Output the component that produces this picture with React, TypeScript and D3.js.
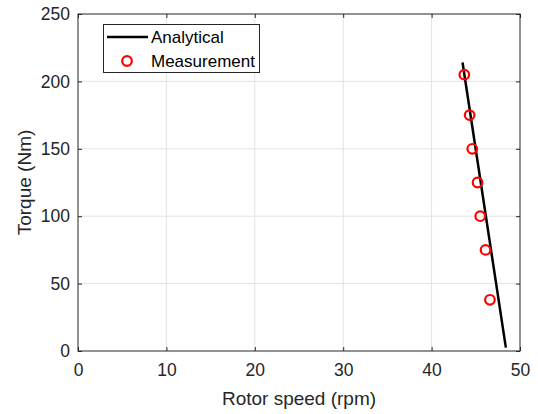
import React, { useEffect, useRef } from 'react';
import * as d3 from 'd3';

// analytical line end points (rpm, Nm)
const analyticalSpeed = [43.5, 48.4];
const analyticalTorque = [214, 2.5];
// measurements
const measSpeed = [43.7, 44.3, 44.6, 45.2, 45.5, 46.1, 46.6];
const measTorque = [205, 175, 150, 125, 100, 75, 38];
const xTicks = [0, 10, 20, 30, 40, 50];
const yTicks = [0, 50, 100, 150, 200, 250];

export default function App() {
  const ref = useRef<SVGSVGElement>(null);

  useEffect(() => {
    const svg = d3.select(ref.current);
    svg.selectAll('*').remove();
    const margin = { top: 14, right: 18, bottom: 63, left: 78 };
    const width = 538;
    const height = 414;
    const innerWidth = width - margin.left - margin.right;
    const innerHeight = height - margin.top - margin.bottom;
    const font = 'Liberation Sans, Arial, sans-serif';
    const txt = '#262626';

    const x = d3.scaleLinear().domain([0, 50]).range([0, innerWidth]);
    const y = d3.scaleLinear().domain([0, 250]).range([innerHeight, 0]);

    const g = svg.append('g').attr('transform', `translate(${margin.left},${margin.top})`);

    // grid
    g.append('g')
      .selectAll('line')
      .data(xTicks.slice(1, -1))
      .enter()
      .append('line')
      .attr('x1', (d) => x(d))
      .attr('x2', (d) => x(d))
      .attr('y1', 0)
      .attr('y2', innerHeight)
      .attr('stroke', '#e3e3e3');
    g.append('g')
      .selectAll('line')
      .data(yTicks.slice(1, -1))
      .enter()
      .append('line')
      .attr('y1', (d) => y(d))
      .attr('y2', (d) => y(d))
      .attr('x1', 0)
      .attr('x2', innerWidth)
      .attr('stroke', '#e3e3e3');

    const styleAxis = (sel: any) => {
      sel.select('.domain').remove();
      sel.selectAll('line').attr('stroke', '#262626');
      sel.selectAll('text').attr('fill', txt).style('font-family', font).style('font-size', '17.5px');
    };

    g.append('g')
      .attr('transform', `translate(0,${innerHeight})`)
      .call(d3.axisBottom(x).tickValues(xTicks).tickSizeInner(-4).tickSizeOuter(0).tickPadding(13))
      .call(styleAxis);
    g.append('g')
      .call(d3.axisTop(x).tickValues(xTicks).tickSizeInner(-4).tickSizeOuter(0).tickFormat(() => ''))
      .call(styleAxis);
    g.append('g')
      .call(d3.axisLeft(y).tickValues(yTicks).tickSizeInner(-4).tickSizeOuter(0).tickPadding(8))
      .call(styleAxis);
    g.append('g')
      .attr('transform', `translate(${innerWidth},0)`)
      .call(d3.axisRight(y).tickValues(yTicks).tickSizeInner(-4).tickSizeOuter(0).tickFormat(() => ''))
      .call(styleAxis);

    // box
    g.append('rect')
      .attr('width', innerWidth)
      .attr('height', innerHeight)
      .attr('fill', 'none')
      .attr('stroke', '#262626')
      .attr('stroke-width', 1);

    // analytical
    const line = d3
      .line<number>()
      .x((d, i) => x(analyticalSpeed[i]))
      .y((d) => y(d));
    g.append('path')
      .datum(analyticalTorque)
      .attr('d', line)
      .attr('fill', 'none')
      .attr('stroke', '#000')
      .attr('stroke-width', 2.5);

    // measurement
    g.append('g')
      .selectAll('circle')
      .data(measTorque)
      .enter()
      .append('circle')
      .attr('cx', (d, i) => x(measSpeed[i]))
      .attr('cy', (d) => y(d))
      .attr('r', 4.8)
      .attr('fill', 'none')
      .attr('stroke', '#ff0000')
      .attr('stroke-width', 2.2);

    // labels
    svg
      .append('text')
      .attr('x', margin.left + innerWidth / 2)
      .attr('y', 405)
      .attr('text-anchor', 'middle')
      .attr('fill', txt)
      .style('font-family', font)
      .style('font-size', '19px')
      .text('Rotor speed (rpm)');
    svg
      .append('text')
      .attr('transform', `translate(31,${margin.top + innerHeight / 2}) rotate(-90)`)
      .attr('text-anchor', 'middle')
      .attr('fill', txt)
      .style('font-family', font)
      .style('font-size', '19px')
      .text('Torque (Nm)');

    // legend
    const lg = svg.append('g');
    lg.append('rect')
      .attr('x', 103.5)
      .attr('y', 24.5)
      .attr('width', 156)
      .attr('height', 48)
      .attr('fill', '#fff')
      .attr('stroke', '#262626');
    lg.append('line')
      .attr('x1', 107)
      .attr('x2', 148)
      .attr('y1', 37)
      .attr('y2', 37)
      .attr('stroke', '#000')
      .attr('stroke-width', 2.5);
    lg.append('circle')
      .attr('cx', 127)
      .attr('cy', 61)
      .attr('r', 4.8)
      .attr('fill', 'none')
      .attr('stroke', '#ff0000')
      .attr('stroke-width', 2.2);
    lg.append('text')
      .attr('x', 151)
      .attr('y', 43)
      .attr('fill', '#000')
      .style('font-family', font)
      .style('font-size', '17px')
      .text('Analytical');
    lg.append('text')
      .attr('x', 151)
      .attr('y', 67)
      .attr('fill', '#000')
      .style('font-family', font)
      .style('font-size', '17px')
      .text('Measurement');
  }, []);

  return (
    <svg
      ref={ref}
      width={538}
      height={414}
      style={{ position: 'absolute', left: 0, top: 0, background: '#fff' }}
    />
  );
}
